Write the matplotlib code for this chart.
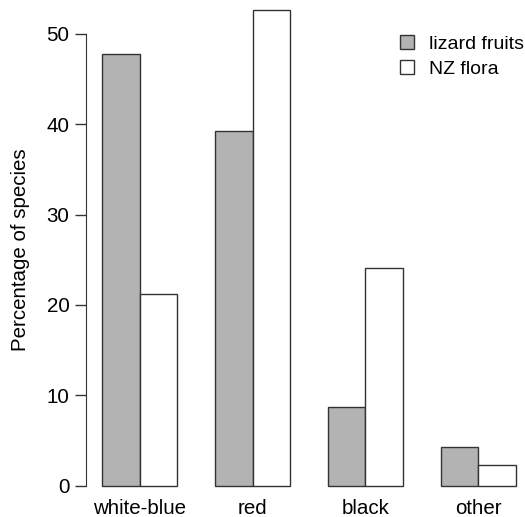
import numpy as np
import matplotlib
matplotlib.use("Agg")
import matplotlib.pyplot as plt

# data
categories = ["white-blue", "red", "black", "other"]
lizard_fruits = [47.8, 39.2, 8.7, 4.3]
nz_flora = [21.2, 52.6, 24.1, 2.3]
yticks = [0, 10, 20, 30, 40, 50]

plt.rcParams["font.family"] = ["Liberation Sans", "DejaVu Sans"]
fs = 14.8

fig = plt.figure(figsize=(5.25, 5.17), dpi=100)
# R-style barplot: beside=TRUE, bar width 1, one unit gap between groups
ax = fig.add_axes([85.5 / 525, 1 - 495.7 / 517, 447 / 525, 495.7 / 517])

grp = np.arange(len(categories)) * 3 + 1
ax.bar(grp + 0.5, lizard_fruits, width=1, color="#b3b3b3", edgecolor="#333333",
       linewidth=1, label="lizard fruits")
ax.bar(grp + 1.5, nz_flora, width=1, color="white", edgecolor="#333333",
       linewidth=1, label="NZ flora")

ax.set_xlim(0.56, 12.44)
ax.set_ylim(-1.1, 53.73)

for s in ["top", "right", "bottom"]:
    ax.spines[s].set_visible(False)
ax.spines["left"].set_bounds(0, 50)
ax.spines["left"].set_color("#333333")
ax.set_yticks(yticks)
ax.tick_params(axis="y", length=8, width=1, color="#333333", pad=3.5, labelsize=fs)

ax.set_xticks(grp + 1)
ax.set_xticklabels(categories, fontsize=fs)
ax.tick_params(axis="x", length=0, pad=2.5)

ax.set_ylabel("Percentage of species", fontsize=fs)
ax.yaxis.set_label_coords(-55 / 447, (495.7 - 250) / 495.7)

ax.legend(loc="upper left", bbox_to_anchor=(400 / 525, 1 - 35 / 517),
          bbox_transform=fig.transFigure, frameon=False, fontsize=14,
          handlelength=0.7, handleheight=0.7, handletextpad=0.8,
          labelspacing=0.38, borderpad=0, borderaxespad=0)

fig.savefig("out.png", dpi=100)
